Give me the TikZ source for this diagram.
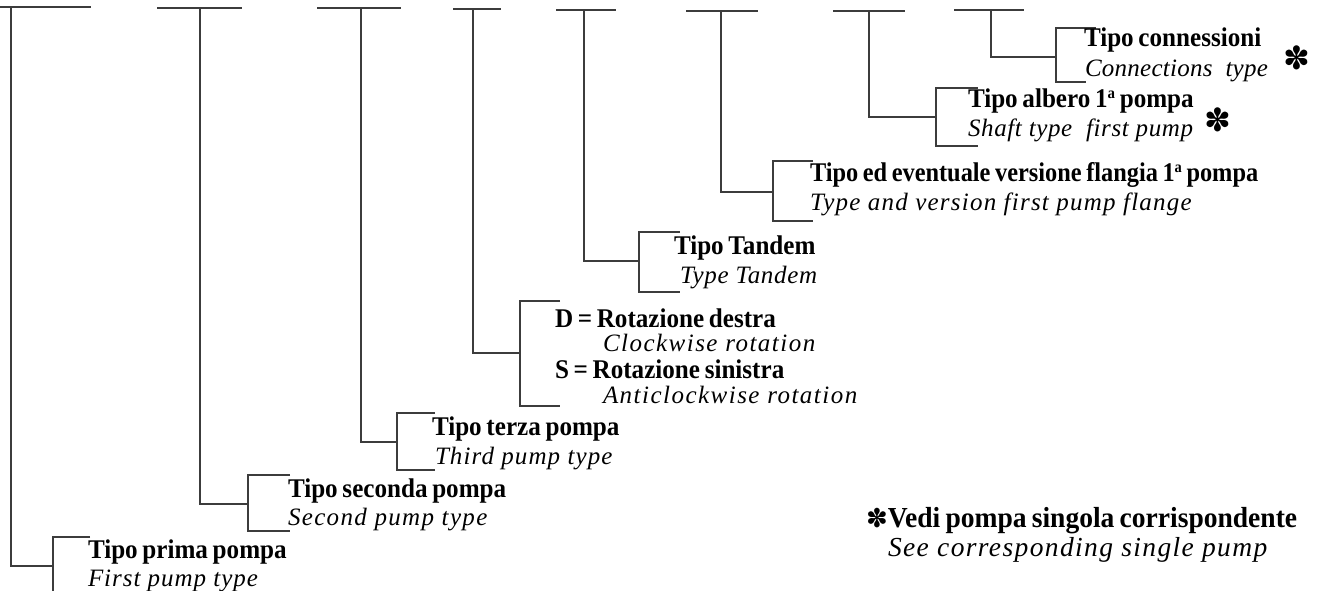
\documentclass[tikz,border=0pt]{standalone}
\usepackage{fontspec}
\usepackage{graphicx}
\setmainfont{Liberation Serif}
\newfontfamily\astfont{DejaVu Sans}
\newfontfamily\bfam[WordSpace=0.75]{Liberation Serif}
\newcommand\BT[2][1]{\scalebox{#1}[1]{\scalebox{0.93}[1]{\bfam\fontsize{27}{27}\selectfont\bfseries #2}}}
\newcommand\IT[2][5]{{\fontsize{25}{25}\selectfont\itshape\addfontfeature{LetterSpace=#1}#2}}
\newcommand\ordA{\raisebox{9pt}{\fontsize{16}{16}\selectfont a}}
\newcommand\AST{{\astfont\fontsize{32}{32}\selectfont ✽}}
\tikzset{
  ln/.style={draw={rgb,255:red,60;green,60;blue,60}, line width=1.3pt},
  lbl/.style={inner sep=0pt, outer sep=0pt, anchor=base west},
}
\begin{document}
\begin{tikzpicture}[x=1pt,y=-1pt]
\useasboundingbox (0,0) rectangle (1318,591);
% ---------- connector 1 ----------
\coordinate (a1) at (0,7); \coordinate (c1) at (91,7); \coordinate (t1) at (11,7);
\coordinate (k1) at (53,566); \coordinate (u1) at (53,537); \coordinate (w1) at (53,596);
\draw[ln] (a1) -- (c1);
\draw[ln] (t1) |- (k1);
\draw[ln] ([xshift=37pt]u1) -- (u1) -- (w1);
\node[lbl] (p1) at (88,558) {\BT{Tipo prima pompa}};
\node[lbl] (q1) at (88,586) {\IT[3.9]{First pump type}};
% ---------- connector 2 ----------
\coordinate (a2) at (157,8); \coordinate (c2) at (242,8); \coordinate (t2) at (200,8);
\coordinate (k2) at (248,504); \coordinate (u2) at (248,475); \coordinate (w2) at (248,531);
\draw[ln] (a2) -- (c2);
\draw[ln] (t2) |- (k2);
\draw[ln] ([xshift=42pt]u2) -- (u2) -- (w2) -- ([xshift=42pt]w2);
\node[lbl] (p2) at (288,497) {\BT{Tipo seconda pompa}};
\node[lbl] (q2) at (288,525) {\IT[5.4]{Second pump type}};
% ---------- connector 3 ----------
\coordinate (a3) at (317,8); \coordinate (c3) at (401,8); \coordinate (t3) at (361,8);
\coordinate (k3) at (397,442); \coordinate (u3) at (397,413); \coordinate (w3) at (397,470);
\draw[ln] (a3) -- (c3);
\draw[ln] (t3) |- (k3);
\draw[ln] ([xshift=38pt]u3) -- (u3) -- (w3) -- ([xshift=38pt]w3);
\node[lbl] (p3) at (432,435) {\BT{Tipo terza pompa}};
\node[lbl] (q3) at (435,464) {\IT[4.4]{Third pump type}};
% ---------- connector 4 ----------
\coordinate (a4) at (453,9); \coordinate (c4) at (501,9); \coordinate (t4) at (473,9);
\coordinate (k4) at (520,353); \coordinate (u4) at (520,301); \coordinate (w4) at (520,406);
\draw[ln] (a4) -- (c4);
\draw[ln] (t4) |- (k4);
\draw[ln] ([xshift=40pt]u4) -- (u4) -- (w4) -- ([xshift=40pt]w4);
\node[lbl] (p4a) at (555,327) {\BT{D = Rotazione destra}};
\node[lbl] (q4a) at (603,351) {\IT[5.9]{Clockwise rotation}};
\node[lbl] (p4b) at (555,378) {\BT{S = Rotazione sinistra}};
\node[lbl] (q4b) at (603,403) {\IT[5.9]{Anticlockwise rotation}};
% ---------- connector 5 ----------
\coordinate (a5) at (556,10); \coordinate (c5) at (616,10); \coordinate (t5) at (584,10);
\coordinate (k5) at (639,261); \coordinate (u5) at (639,232); \coordinate (w5) at (639,292);
\draw[ln] (a5) -- (c5);
\draw[ln] (t5) |- (k5);
\draw[ln] ([xshift=41pt]u5) -- (u5) -- (w5) -- ([xshift=41pt]w5);
\node[lbl] (p5) at (674,254) {\BT{Tipo Tandem}};
\node[lbl] (q5) at (680,283) {\IT[2.6]{Type Tandem}};
% ---------- connector 6 ----------
\coordinate (a6) at (686,11); \coordinate (c6) at (758,11); \coordinate (t6) at (721,11);
\coordinate (k6) at (773,192); \coordinate (u6) at (773,161); \coordinate (w6) at (773,221);
\draw[ln] (a6) -- (c6);
\draw[ln] (t6) |- (k6);
\draw[ln] ([xshift=40pt]u6) -- (u6) -- (w6) -- ([xshift=40pt]w6);
\node[lbl] (p6) at (810,182) {\BT[0.97]{Tipo ed eventuale versione flangia 1\ordA\ pompa}};
\node[lbl] (q6) at (810,211) {\IT[4.9]{Type and version first pump flange}};
% ---------- connector 7 ----------
\coordinate (a7) at (833,11); \coordinate (c7) at (905,11); \coordinate (t7) at (869,11);
\coordinate (k7) at (936,117); \coordinate (u7) at (936,88); \coordinate (w7) at (936,146);
\draw[ln] (a7) -- (c7);
\draw[ln] (t7) |- (k7);
\draw[ln] ([xshift=42pt]u7) -- (u7) -- (w7) -- ([xshift=42pt]w7);
\node[lbl] (p7) at (968,108) {\BT{Tipo albero 1\ordA\ pompa}};
\node[lbl] (q7) at (968,137) {\IT[2.5]{Shaft type\ \ first pump}};
\node (s7) at (1218,120) {\AST};
% ---------- connector 8 ----------
\coordinate (a8) at (954,10); \coordinate (c8) at (1024,10); \coordinate (t8) at (991,10);
\coordinate (k8) at (1056,57); \coordinate (u8) at (1056,28); \coordinate (w8) at (1056,82);
\draw[ln] (a8) -- (c8);
\draw[ln] (t8) |- (k8);
\draw[ln] ([xshift=40pt]u8) -- (u8) -- (w8) -- ([xshift=30pt]w8);
\node[lbl] (p8) at (1084,47) {\BT{Tipo connessioni}};
\node[lbl] (q8) at (1085,77) {\IT[1]{Connections\ \ type}};
\node (s8) at (1297,58) {\AST};
% ---------- legend ----------
\node[lbl] (lg1) at (866,527) {{\astfont\fontsize{26}{26}\selectfont ✽}\scalebox{0.95}[1]{\bfam\fontsize{29}{29}\selectfont\bfseries Vedi pompa singola corrispondente}};
\node[lbl] (lg2) at (888,556) {{\fontsize{27.5}{27.5}\selectfont\itshape\addfontfeature{LetterSpace=5}See corresponding single pump}};
\end{tikzpicture}
\end{document}
